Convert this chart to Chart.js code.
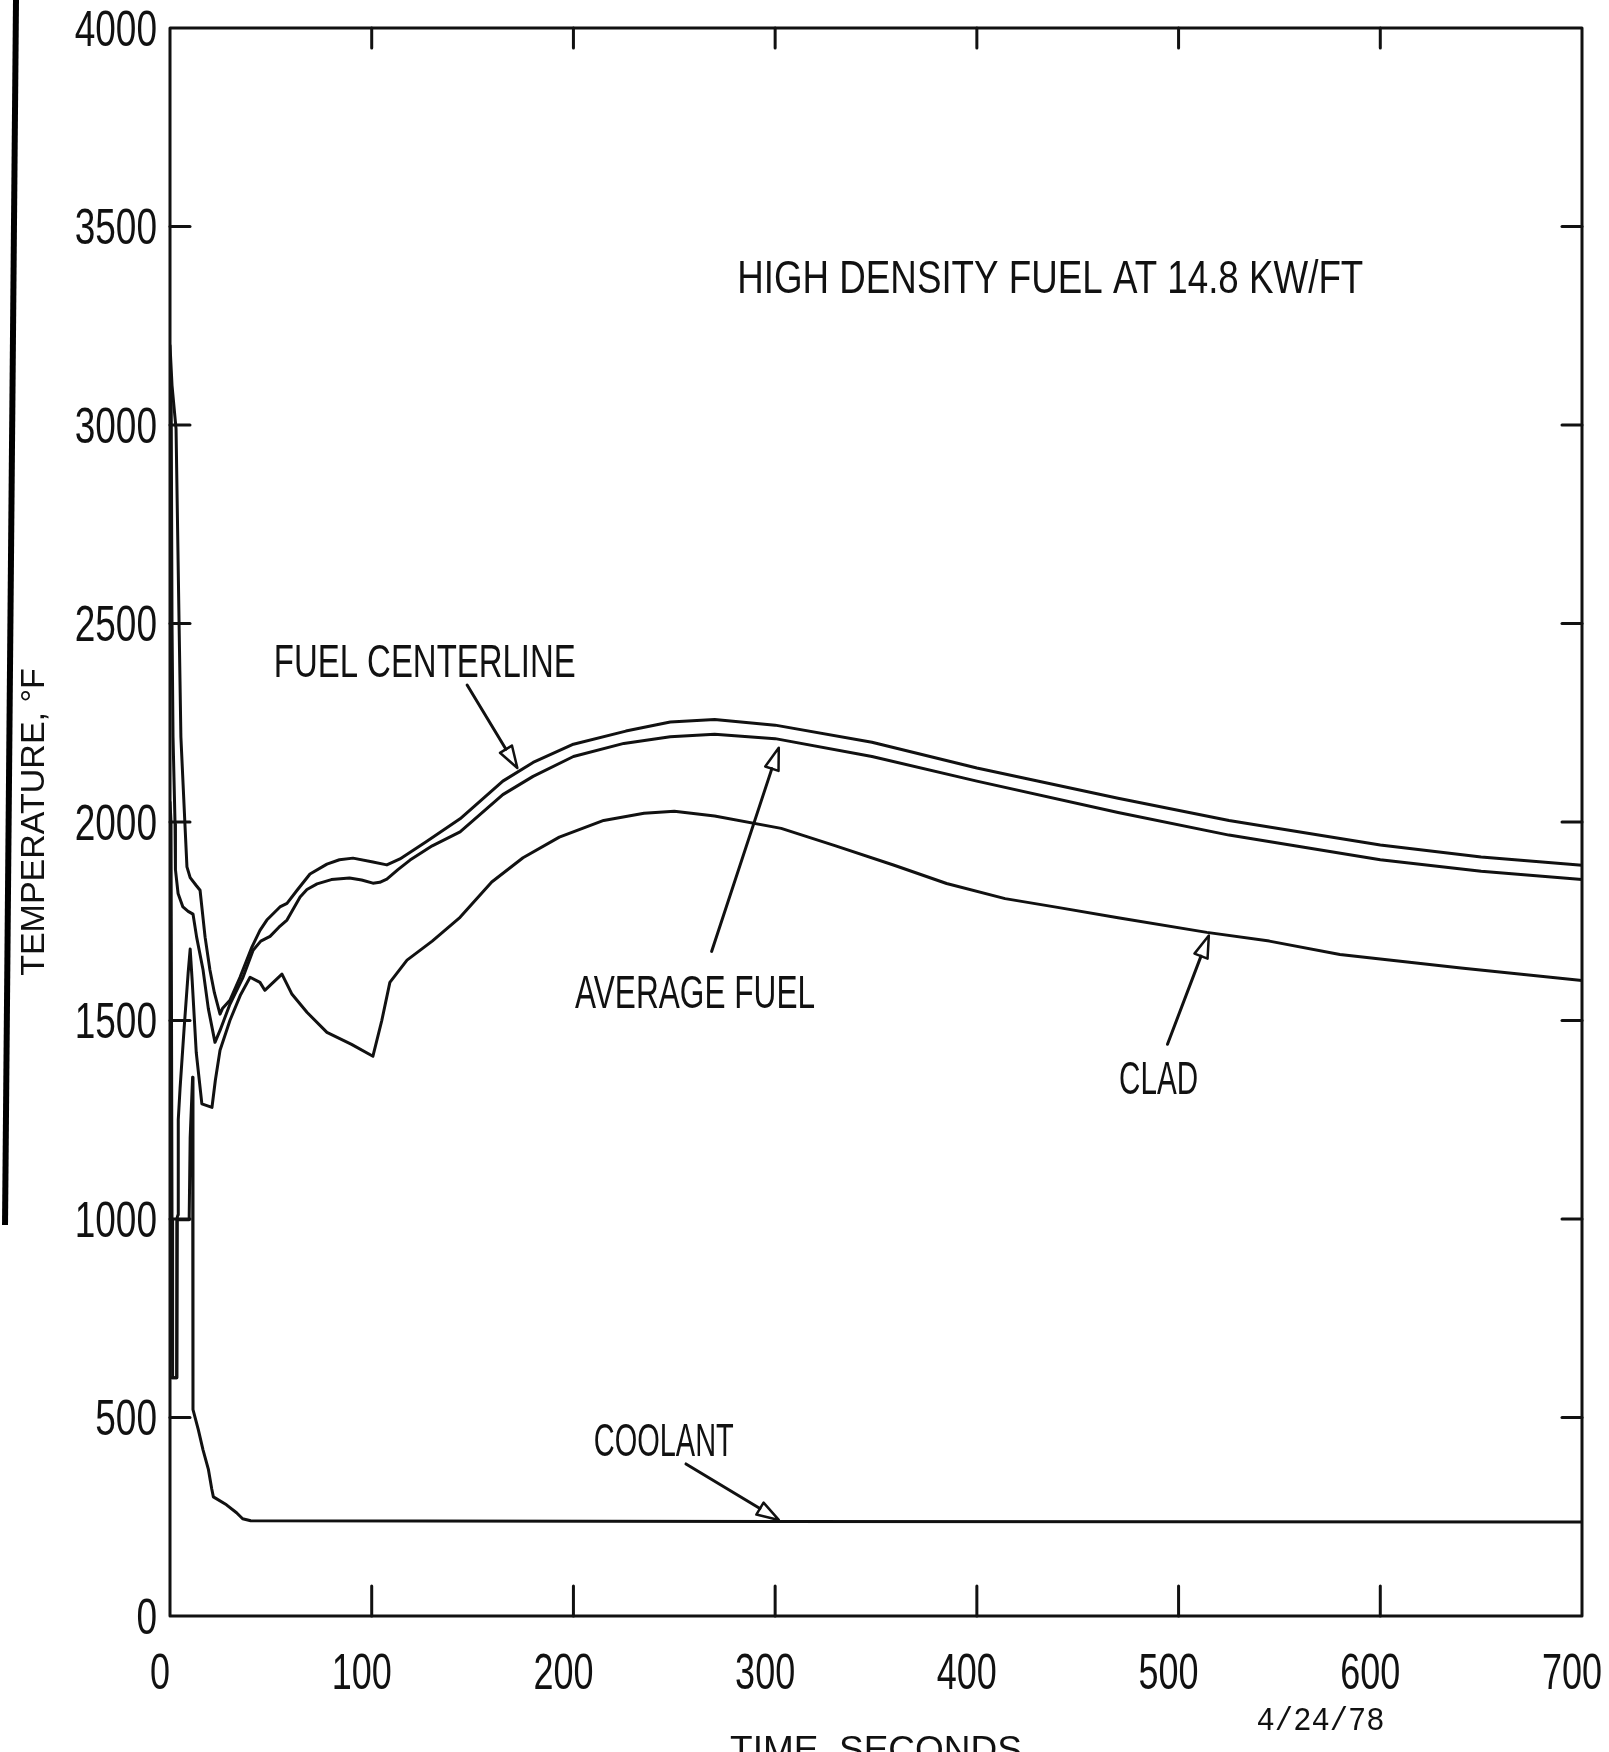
<!DOCTYPE html>
<html>
<head>
<meta charset="utf-8">
<script src="https://cdn.jsdelivr.net/npm/chart.js@4.4.1/dist/chart.umd.min.js"></script>
<style>
html,body{margin:0;padding:0;background:#fff;}
canvas{display:block;}
</style>
</head>
<body>
<canvas id="c" width="1609" height="1752"></canvas>
<script>
// ---------- DATA ----------
const xTickValues = [0, 100, 200, 300, 400, 500, 600, 700];
const yTickValues = [0, 500, 1000, 1500, 2000, 2500, 3000, 3500, 4000];
const xTickLabels = ['0', '100', '200', '300', '400', '500', '600', '700'];
const yTickLabels = ['0', '500', '1000', '1500', '2000', '2500', '3000', '3500', '4000'];

const centerlineTime = [0, 1, 3, 4.5, 5.4, 7.4, 8.4, 10, 13, 14.9, 17.4, 19.8, 22, 24.8, 26, 29.7, 34.7, 40.6, 44.6, 48, 54.5, 58, 63, 69.4, 77.8, 84, 90.7, 100, 107.5, 114, 127, 143.8, 165, 180, 200, 226, 248, 270, 300, 348, 400, 470, 525, 600, 650, 700];
const centerlineTemp = [3200, 3100, 2990, 2500, 2214, 1995, 1887, 1860, 1840, 1828, 1710, 1627, 1570, 1516, 1530, 1551, 1609, 1685, 1727, 1753, 1786, 1795, 1828, 1869, 1894, 1905, 1909, 1900, 1892, 1907, 1950, 2008, 2103, 2150, 2196, 2229, 2252, 2258, 2244, 2201, 2136, 2060, 2004, 1942, 1912, 1891];

const averageTime = [0, 0.6, 1, 1.5, 2.5, 2.7, 4, 6.4, 9, 11.4, 13.2, 16.4, 19, 22.3, 24.8, 29.7, 36.2, 41.2, 45, 49.6, 54, 58, 64.5, 67.9, 72.9, 80, 89, 95, 100.6, 104, 107.5, 113, 119, 130, 143.8, 165, 180, 200, 225, 248, 270, 300, 348, 400, 470, 525, 600, 650, 700];
const averageTemp = [3150, 3050, 2500, 2214, 1995, 1880, 1820, 1786, 1775, 1768, 1710, 1627, 1530, 1445, 1475, 1541, 1609, 1677, 1700, 1712, 1735, 1753, 1811, 1830, 1844, 1855, 1859, 1854, 1846, 1848, 1856, 1880, 1904, 1940, 1975, 2069, 2115, 2165, 2198, 2215, 2221, 2210, 2165, 2103, 2024, 1967, 1905, 1876, 1855];

const cladTime = [0, 0.5, 1, 1.3, 3.3, 3.4, 4, 4.1, 5, 7, 9, 10, 11, 13, 15.8, 20.8, 22.5, 24.8, 29.7, 35, 39.7, 44.6, 47, 55.5, 60.5, 68, 77.8, 90, 100.6, 105, 109, 117.5, 130, 143.8, 159.5, 175, 193, 215, 235, 250, 270, 303, 330, 359, 385, 414, 440, 470, 514, 545, 580, 640, 700];
const cladTemp = [2050, 2000, 1000, 600, 600, 1000, 1011, 1250, 1330, 1480, 1620, 1680, 1600, 1420, 1290, 1281, 1350, 1425, 1500, 1565, 1609, 1596, 1576, 1617, 1566, 1520, 1470, 1440, 1410, 1500, 1596, 1652, 1700, 1760, 1849, 1910, 1962, 2004, 2022, 2027, 2015, 1984, 1940, 1891, 1845, 1807, 1785, 1759, 1722, 1700, 1666, 1632, 1601];

const coolantTime = [0, 3.3, 3.6, 9.5, 10, 11.2, 11.4, 14, 16.4, 19, 20.7, 21.5, 28, 33, 36, 40, 300, 700];
const coolantTemp = [600, 600, 998, 998, 1205, 1357, 520, 470, 418, 370, 320, 300, 280, 260, 245, 240, 238, 237];

// annotation texts (position in data units: seconds, deg F; baseline, centred)
const labelTexts = ['HIGH DENSITY FUEL AT 14.8 KW/FT', 'FUEL CENTERLINE', 'AVERAGE FUEL', 'CLAD', 'COOLANT', '4/24/78'];
const labelTime  = [436.4, 126.3, 260.3, 490.1, 244.8, 570.4];
const labelTemp  = [3332, 2365, 1531, 1314, 403, -288];

// arrows: from (t0,v0) to (t1,v1) in data units
const arrowFromTime = [147.3, 268.5, 494.5, 255.8];
const arrowFromTemp = [2345, 1674, 1440, 383];
const arrowToTime   = [172.2, 301.8, 515.0, 301.8];
const arrowToTemp   = [2136, 2187, 1714, 242];

// ---------- STYLE ----------
const FAMILY = "'Liberation Sans', 'DejaVu Sans', sans-serif";
const MONO = "'Liberation Mono', 'DejaVu Sans Mono', monospace";
const INK = '#111';
const labelStyle = [
  {size: 47, family: FAMILY, width: 626},
  {size: 46, family: FAMILY, width: 302},
  {size: 46, family: FAMILY, width: 240},
  {size: 46, family: FAMILY, width: 79},
  {size: 46, family: FAMILY, width: 140},
  {size: 34, family: MONO, width: 128}
];
const tickFontSize = 50;
const xTickSqueeze = 0.72;
const yTickSqueeze = 0.74;

const pairs = (xs, ys) => xs.map((x, i) => ({x: x, y: ys[i]}));

function drawArrow(ctx, x1, y1, x2, y2) {
  const ang = Math.atan2(y2 - y1, x2 - x1);
  const L = 22, W = 7;
  const bx = x2 - L * Math.cos(ang), by = y2 - L * Math.sin(ang);
  ctx.lineWidth = 3;
  ctx.beginPath(); ctx.moveTo(x1, y1); ctx.lineTo(bx, by); ctx.stroke();
  ctx.lineWidth = 2.5;
  ctx.beginPath();
  ctx.moveTo(x2, y2);
  ctx.lineTo(bx + W * Math.sin(ang), by - W * Math.cos(ang));
  ctx.lineTo(bx - W * Math.sin(ang), by + W * Math.cos(ang));
  ctx.closePath(); ctx.stroke();
}

function drawFitText(ctx, str, x, y, st) {
  ctx.save();
  ctx.font = st.size + 'px ' + st.family;
  const w = ctx.measureText(str).width;
  ctx.translate(x, y);
  ctx.scale(st.width / w, 1);
  ctx.textAlign = 'center';
  ctx.textBaseline = 'alphabetic';
  ctx.fillStyle = INK;
  ctx.fillText(str, 0, 0);
  ctx.restore();
}

function drawSqueezed(ctx, str, x, y, size, sx, align) {
  ctx.save();
  ctx.font = size + 'px ' + FAMILY;
  ctx.translate(x, y);
  ctx.scale(sx, 1);
  ctx.textAlign = align;
  ctx.textBaseline = 'alphabetic';
  ctx.fillStyle = INK;
  ctx.fillText(str, 0, 0);
  ctx.restore();
}

const decorPlugin = {
  id: 'decor',
  beforeDraw(chart) {
    const ctx = chart.ctx;
    ctx.save();
    ctx.fillStyle = '#fff';
    ctx.fillRect(0, 0, chart.width, chart.height);
    // dark scanner edge at the left border of the sheet
    ctx.strokeStyle = '#000';
    ctx.lineWidth = 6;
    ctx.beginPath(); ctx.moveTo(16, 0); ctx.lineTo(5, 1225); ctx.stroke();
    ctx.restore();
  },
  afterDraw(chart) {
    const ctx = chart.ctx;
    const xs = chart.scales.x, ys = chart.scales.y;
    const L = xs.getPixelForValue(xTickValues[0]);
    const R = xs.getPixelForValue(xTickValues[xTickValues.length - 1]);
    const T = ys.getPixelForValue(yTickValues[yTickValues.length - 1]);
    const B = ys.getPixelForValue(yTickValues[0]);
    ctx.save();
    ctx.strokeStyle = INK;
    ctx.lineCap = 'round';
    ctx.lineJoin = 'round';
    // frame
    ctx.lineWidth = 3;
    ctx.strokeRect(L, T, R - L, B - T);
    // inward ticks
    xTickValues.slice(1, -1).forEach(v => {
      const px = xs.getPixelForValue(v);
      ctx.beginPath(); ctx.moveTo(px, B); ctx.lineTo(px, B - 30); ctx.stroke();
      ctx.beginPath(); ctx.moveTo(px, T); ctx.lineTo(px, T + 20); ctx.stroke();
    });
    yTickValues.slice(1, -1).forEach(v => {
      const py = ys.getPixelForValue(v);
      ctx.beginPath(); ctx.moveTo(L, py); ctx.lineTo(L + 20, py); ctx.stroke();
      ctx.beginPath(); ctx.moveTo(R, py); ctx.lineTo(R - 20, py); ctx.stroke();
    });
    // tick labels (narrow lettering, as on the plotter original)
    const cap = tickFontSize * 0.716;
    xTickValues.forEach((v, i) => {
      drawSqueezed(ctx, xTickLabels[i], xs.getPixelForValue(v) - 10, B + 73, tickFontSize, xTickSqueeze, 'center');
    });
    yTickValues.forEach((v, i) => {
      drawSqueezed(ctx, yTickLabels[i], L - 13, ys.getPixelForValue(v) + cap / 2, tickFontSize, yTickSqueeze, 'right');
    });
    // arrows
    arrowFromTime.forEach((t, i) => {
      drawArrow(ctx,
        xs.getPixelForValue(t), ys.getPixelForValue(arrowFromTemp[i]),
        xs.getPixelForValue(arrowToTime[i]), ys.getPixelForValue(arrowToTemp[i]));
    });
    // labels
    labelTexts.forEach((s, i) => {
      drawFitText(ctx, s, xs.getPixelForValue(labelTime[i]), ys.getPixelForValue(labelTemp[i]), labelStyle[i]);
    });
    ctx.restore();
  }
};

const lineStyle = {borderColor: INK, borderWidth: 3, pointRadius: 0, tension: 0, fill: false, borderJoinStyle: 'round', borderCapStyle: 'round'};

new Chart(document.getElementById('c'), {
  type: 'line',
  data: {
    datasets: [
      Object.assign({label: 'Fuel centerline', data: pairs(centerlineTime, centerlineTemp)}, lineStyle),
      Object.assign({label: 'Average fuel', data: pairs(averageTime, averageTemp)}, lineStyle),
      Object.assign({label: 'Clad', data: pairs(cladTime, cladTemp)}, lineStyle),
      Object.assign({label: 'Coolant', data: pairs(coolantTime, coolantTemp)}, lineStyle)
    ]
  },
  options: {
    responsive: false,
    animation: false,
    devicePixelRatio: 1,
    layout: {padding: {left: 0, right: 27, top: 28, bottom: 0}},
    plugins: {legend: {display: false}, tooltip: {enabled: false}, title: {display: false}},
    scales: {
      x: {
        type: 'linear', min: 0, max: 700,
        afterBuildTicks: s => { s.ticks = xTickValues.map(v => ({value: v})); },
        afterFit: s => { s.height = 136; s.paddingLeft = 0; s.paddingRight = 0; },
        grid: {display: false, drawTicks: false},
        border: {display: false},
        ticks: {display: false},
        title: {display: true, text: 'TIME, SECONDS', color: INK, font: {family: FAMILY, size: 37, lineHeight: 0.01}, padding: 0}
      },
      y: {
        type: 'linear', min: 0, max: 4000,
        afterBuildTicks: s => { s.ticks = yTickValues.map(v => ({value: v})); },
        afterFit: s => { s.width = 170; s.paddingTop = 0; s.paddingBottom = 0; },
        grid: {display: false, drawTicks: false},
        border: {display: false},
        ticks: {display: false},
        title: {display: true, text: 'TEMPERATURE, °F', color: INK, font: {family: FAMILY, size: 34}, padding: {top: 14, bottom: 0}}
      }
    }
  },
  plugins: [decorPlugin]
});
</script>
</body>
</html>
